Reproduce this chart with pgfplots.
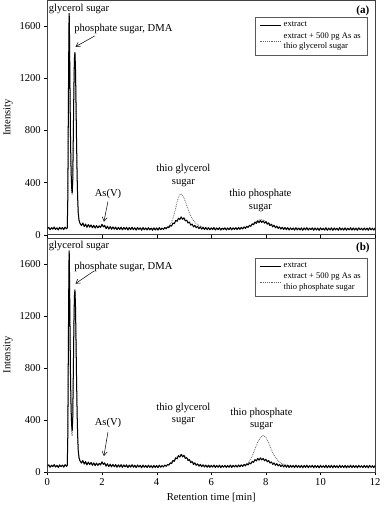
\documentclass[border=0pt]{standalone}
\usepackage{fontspec}
\setmainfont{Liberation Serif}
\usepackage{pgfplots}
\pgfplotsset{compat=1.18}
\usepackage{pgfplotstable}
\usetikzlibrary{arrows.meta}

% extract (same run in both panels)
\pgfplotstableread{
t y
0.00 46
0.05 57
0.10 38
0.15 54
0.20 42
0.25 59
0.30 40
0.35 53
0.40 36
0.45 56
0.50 43
0.55 55
0.60 39
0.65 58
0.70 45
0.73 52
0.75 300
0.77 1000
0.79 1600
0.80 1700
0.81 1550
0.83 1100
0.85 700
0.87 480
0.89 360
0.91 320
0.93 420
0.95 750
0.97 1100
0.99 1350
1.01 1400
1.03 1280
1.05 1000
1.07 700
1.09 450
1.11 280
1.13 170
1.16 110
1.20 85
1.25 70
1.30 90
1.35 62
1.40 82
1.45 56
1.50 78
1.55 58
1.60 75
1.65 53
1.70 72
1.75 50
1.80 70
1.85 52
1.90 68
1.95 56
2.00 80
2.05 60
2.10 72
2.15 46
2.20 65
2.25 43
2.30 62
2.35 41
2.40 60
2.45 42
2.50 59
2.55 38
2.60 57
2.65 40
2.70 58
2.75 37
2.80 56
2.85 41
2.90 57
2.95 36
3.00 55
3.05 39
3.10 58
3.15 38
3.20 54
3.25 35
3.30 56
3.35 40
3.40 53
3.45 34
3.50 55
3.55 38
3.60 52
3.65 36
3.70 54
3.75 37
3.80 51
3.85 34
3.90 53
3.95 36
4.00 52
4.05 35
4.10 54
4.15 38
4.20 51
4.25 40
4.30 55
4.35 45
4.40 60
4.45 54
4.50 72
4.55 66
4.60 90
4.65 84
4.70 110
4.75 103
4.80 127
4.85 116
4.90 137
4.95 118
5.00 130
5.05 106
5.10 112
5.15 90
5.20 97
5.25 73
5.30 82
5.35 60
5.40 72
5.45 53
5.50 64
5.55 46
5.60 60
5.65 42
5.70 57
5.75 40
5.80 55
5.85 38
5.90 54
5.95 37
6.00 53
6.05 39
6.10 55
6.15 36
6.20 52
6.25 38
6.30 54
6.35 35
6.40 51
6.45 39
6.50 53
6.55 36
6.60 52
6.65 38
6.70 55
6.75 37
6.80 53
6.85 40
6.90 54
6.95 39
7.00 56
7.05 41
7.10 57
7.15 44
7.20 60
7.25 48
7.30 64
7.35 56
7.40 72
7.45 64
7.50 84
7.55 76
7.60 97
7.65 86
7.70 107
7.75 92
7.80 110
7.85 94
7.90 106
7.95 88
8.00 100
8.05 80
8.10 90
8.15 70
8.20 80
8.25 60
8.30 72
8.35 53
8.40 66
8.45 48
8.50 60
8.55 43
8.60 57
8.65 40
8.70 55
8.75 38
8.80 54
8.85 36
8.90 53
8.95 38
9.00 52
9.05 35
9.10 54
9.15 37
9.20 51
9.25 36
9.30 53
9.35 34
9.40 52
9.45 37
9.50 54
9.55 35
9.60 50
9.65 38
9.70 53
9.75 34
9.80 52
9.85 36
9.90 51
9.95 33
10.00 53
10.05 37
10.10 50
10.15 35
10.20 54
10.25 34
10.30 51
10.35 36
10.40 53
10.45 33
10.50 52
10.55 37
10.60 50
10.65 34
10.70 54
10.75 36
10.80 51
10.85 35
10.90 53
10.95 34
11.00 50
11.05 37
11.10 54
11.15 35
11.20 52
11.25 36
11.30 51
11.35 34
11.40 53
11.45 38
11.50 50
11.55 35
11.60 52
11.65 36
11.70 51
11.75 34
11.80 53
11.85 37
11.90 50
11.95 35
12.00 52
}\extract

% extract + 500 pg As as thio glycerol sugar
\pgfplotstableread{
t y
0.00 50
0.10 44
0.20 53
0.30 45
0.40 51
0.50 43
0.60 52
0.70 47
0.73 55
0.75 320
0.77 1020
0.79 1620
0.80 1690
0.81 1560
0.83 1080
0.85 680
0.87 460
0.89 330
0.91 305
0.93 430
0.95 760
0.97 1120
0.99 1360
1.01 1395
1.03 1270
1.05 990
1.07 690
1.09 440
1.11 270
1.13 165
1.16 108
1.20 84
1.30 78
1.40 72
1.50 70
1.60 66
1.70 63
1.80 61
1.90 58
2.00 72
2.10 60
2.20 55
2.30 50
2.40 53
2.50 47
2.60 51
2.70 46
2.80 50
2.90 45
3.00 49
3.10 44
3.20 48
3.30 45
3.40 47
3.50 43
3.60 48
3.70 44
3.80 46
3.90 43
4.00 47
4.10 45
4.20 48
4.30 50
4.40 58
4.50 78
4.60 125
4.70 205
4.75 252
4.80 288
4.85 306
4.90 314
4.95 302
5.00 282
5.05 258
5.10 226
5.15 195
5.20 166
5.30 122
5.40 95
5.50 77
5.60 66
5.70 58
5.80 53
5.90 50
6.00 47
6.20 46
6.40 48
6.60 45
6.80 47
7.00 48
7.20 52
7.30 58
7.40 68
7.50 82
7.60 96
7.70 108
7.80 116
7.90 112
8.00 102
8.10 92
8.20 80
8.30 70
8.40 62
8.50 56
8.60 52
8.80 47
9.00 45
9.50 44
10.00 45
10.50 43
11.00 44
11.50 43
12.00 44
}\spikeA

% extract + 500 pg As as thio phosphate sugar
\pgfplotstableread{
t y
0.00 50
0.10 44
0.20 53
0.30 45
0.40 51
0.50 43
0.60 52
0.70 47
0.73 55
0.75 320
0.77 1020
0.79 1620
0.80 1690
0.81 1560
0.83 1080
0.85 680
0.87 450
0.89 300
0.91 280
0.93 420
0.95 760
0.97 1120
0.99 1360
1.01 1395
1.03 1270
1.05 990
1.07 690
1.09 440
1.11 270
1.13 165
1.16 108
1.20 84
1.30 78
1.40 72
1.50 70
1.60 66
1.70 63
1.80 61
1.90 58
2.00 72
2.10 60
2.20 55
2.30 50
2.40 53
2.50 47
2.60 51
2.70 46
2.80 50
2.90 45
3.00 49
3.10 44
3.20 48
3.30 45
3.40 47
3.50 43
3.60 48
3.70 44
3.80 46
3.90 43
4.00 47
4.10 45
4.20 48
4.30 50
4.40 56
4.50 68
4.60 88
4.70 110
4.80 128
4.90 136
5.00 130
5.10 112
5.20 96
5.30 80
5.40 68
5.50 60
5.60 55
5.80 50
6.00 48
6.20 46
6.40 47
6.60 45
6.80 47
7.00 48
7.20 54
7.30 62
7.40 84
7.50 126
7.60 178
7.70 230
7.80 266
7.90 282
8.00 268
8.10 226
8.20 174
8.30 130
8.40 98
8.50 78
8.60 65
8.70 57
8.80 52
9.00 47
9.50 45
10.00 44
10.50 45
11.00 43
11.50 44
12.00 43
}\spikeB

\pgfplotsset{
  panel/.style={
    scale only axis, width=325pt, height=232.5pt,
    xmin=0, xmax=12, ymin=0, ymax=1800,
    xtick={0,2,...,12}, ytick={0,400,...,1600},
    tick align=outside, xtick pos=bottom, ytick pos=left,
    major tick length=3pt,
    axis line style={black!75},
    tick style={black},
    scaled y ticks=false,
    /pgf/number format/1000 sep={},
    /pgf/number format/assume math mode=true,
    tick label style={font=\fontsize{10.5}{12}\selectfont},
    label style={font=\fontsize{10.5}{12}\selectfont},
    ylabel={Intensity},
    legend style={font=\fontsize{8.5}{10.5}\selectfont, draw=black!65,
      cells={anchor=west, align=left}, inner xsep=4pt, inner ysep=3pt},
    legend image code/.code={\draw[##1] (0cm,0cm) -- (0.75cm,0cm);},
  },
  extract/.style={black, line width=1pt, line join=round},
  spiked/.style={black!60, densely dotted, line width=0.8pt},
}
\tikzset{
  note/.style={font=\fontsize{10.5}{12.5}\selectfont, align=center, inner sep=0pt},
  arr/.style={-{Straight Barb[length=4pt,width=5pt]}, line width=0.5pt},
}

\begin{document}
\begin{tikzpicture}
% (a)
\begin{axis}[panel, at={(0,0)}, xticklabels={},
    legend style={at={(axis cs:11.70,1672)}, anchor=north east}]
  \addplot[spiked] table[x=t, y=y] {\spikeA};
  \addplot[extract] table[x=t, y=y] {\extract};
  \legend{,}
  \addlegendimage{extract}
  \addlegendentry{extract}
  \addlegendimage{spiked}
  \addlegendentry{extract + 500 pg As as\\thio glycerol sugar}
  \node[note, anchor=base west] at (axis cs:0.05,1716) {glycerol sugar};
  \node[note, anchor=base west] at (axis cs:0.98,1556) {phosphate sugar, DMA};
  \draw[arr] (axis cs:1.73,1525) -- (axis cs:1.03,1443);
  \node[note, anchor=base] at (axis cs:2.22,290) {As(V)};
  \draw[arr] (axis cs:2.22,255) -- (axis cs:2.07,100);
  \node[note] at (axis cs:4.98,456) {thio glycerol\\sugar};
  \node[note] at (axis cs:7.80,263) {thio phosphate\\sugar};
  \node[note, font=\fontsize{11}{12}\selectfont\bfseries] at (axis cs:11.55,1716) {(a)};
\end{axis}
% (b)
\begin{axis}[panel, at={(0,-235.5pt)}, xlabel={Retention time [min]},
    legend style={at={(axis cs:11.70,1647)}, anchor=north east}]
  \addplot[spiked, forget plot] table[x=t, y=y] {\spikeB};
  \addplot[extract, forget plot] table[x=t, y=y] {\extract};
  \addlegendimage{extract}
  \addlegendentry{extract}
  \addlegendimage{spiked}
  \addlegendentry{extract + 500 pg As as\\thio phosphate sugar}
  \node[note, anchor=base west] at (axis cs:0.05,1716) {glycerol sugar};
  \node[note, anchor=base west] at (axis cs:0.98,1556) {phosphate sugar, DMA};
  \draw[arr] (axis cs:1.72,1546) -- (axis cs:1.03,1448);
  \node[note, anchor=base] at (axis cs:2.22,362) {As(V)};
  \draw[arr] (axis cs:2.22,309) -- (axis cs:2.07,124);
  \node[note] at (axis cs:4.98,448) {thio glycerol\\sugar};
  \node[note] at (axis cs:7.84,410) {thio phosphate\\sugar};
  \node[note, font=\fontsize{11}{12}\selectfont\bfseries] at (axis cs:11.55,1724) {(b)};
\end{axis}
\end{tikzpicture}
\end{document}
